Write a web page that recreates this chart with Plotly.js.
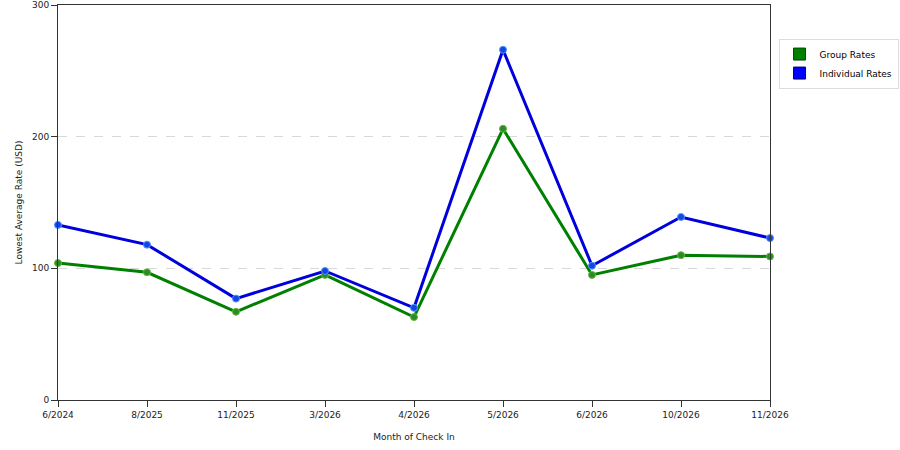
<!DOCTYPE html>
<html>
<head>
<meta charset="utf-8">
<script src="https://cdn.plot.ly/plotly-3.0.1.min.js"></script>
<style>
  html, body { margin: 0; padding: 0; background: #fff; }
  #chart { width: 900px; height: 450px; }
</style>
</head>
<body>
<div id="chart"></div>
<script>
// months of check in
const months = ['6/2024', '8/2025', '11/2025', '3/2026', '4/2026', '5/2026', '6/2026', '10/2026', '11/2026'];

// lowest average rate (USD)
const groupRates = [104, 97, 67, 95, 63, 206, 95, 110, 109];
const individualRates = [133, 118, 77, 98, 70, 266, 102, 139, 123];

const GREEN = 'rgb(0, 128, 0)';
const BLUE = 'rgb(0, 0, 220)';

let group = {
    x: months,
    y: groupRates,
    type: 'scatter',
    mode: 'lines+markers',
    name: 'Group Rates',
    showlegend: false,
    line: { color: GREEN, width: 3 },
    marker: { color: 'rgb(40, 140, 40)', size: 7, line: { color: 'rgb(110, 180, 60)', width: 1 } },
    cliponaxis: false
};

let individual = {
    x: months,
    y: individualRates,
    type: 'scatter',
    mode: 'lines+markers',
    name: 'Individual Rates',
    showlegend: false,
    line: { color: BLUE, width: 3 },
    marker: { color: 'rgb(20, 70, 230)', size: 7, line: { color: 'rgb(80, 150, 255)', width: 1 } },
    cliponaxis: false
};

// legend only entries, drawn as squares
let groupKey = {
    x: [null], y: [null], type: 'scatter', mode: 'markers', name: 'Group Rates',
    marker: { symbol: 'square', size: 12, color: GREEN, line: { color: 'rgb(0, 70, 0)', width: 1 } }
};
let individualKey = {
    x: [null], y: [null], type: 'scatter', mode: 'markers', name: 'Individual Rates',
    marker: { symbol: 'square', size: 12, color: 'rgb(0, 0, 255)', line: { color: 'rgb(0, 0, 120)', width: 1 } }
};

let layout = {
    width: 900,
    height: 450,
    paper_bgcolor: '#ffffff',
    plot_bgcolor: '#ffffff',
    margin: { l: 58, r: 130, t: 5, b: 50, autoexpand: false },
    font: { family: 'DejaVu Sans, Verdana, sans-serif', size: 9, color: '#222' },
    showlegend: true,
    legend: {
        x: 1.012, y: 0.915, xanchor: 'left', yanchor: 'top',
        bordercolor: '#dddddd', borderwidth: 1,
        font: { size: 9, color: '#000' },
        tracegroupgap: 2,
        itemwidth: 30
    },
    xaxis: {
        type: 'category',
        range: [0, 8],
        showgrid: false,
        zeroline: false,
        showline: true,
        mirror: true,
        linecolor: '#333',
        linewidth: 1,
        ticks: 'outside',
        ticklen: 6,
        tickcolor: '#333',
        tickfont: { size: 9 },
        title: { text: 'Month of Check In', font: { size: 9 }, standoff: 14 }
    },
    yaxis: {
        range: [0, 300],
        tickvals: [0, 100, 200, 300],
        showgrid: true,
        gridcolor: '#d8d8d8',
        griddash: 'dash',
        zeroline: false,
        showline: true,
        mirror: true,
        linecolor: '#333',
        linewidth: 1,
        ticks: 'outside',
        ticklen: 6,
        tickcolor: '#333',
        tickfont: { size: 9 },
        title: { text: 'Lowest Average Rate (USD)', font: { size: 9 }, standoff: 7 }
    }
};

Plotly.newPlot('chart', [group, individual, groupKey, individualKey], layout, { displayModeBar: false, staticPlot: true });
</script>
</body>
</html>
